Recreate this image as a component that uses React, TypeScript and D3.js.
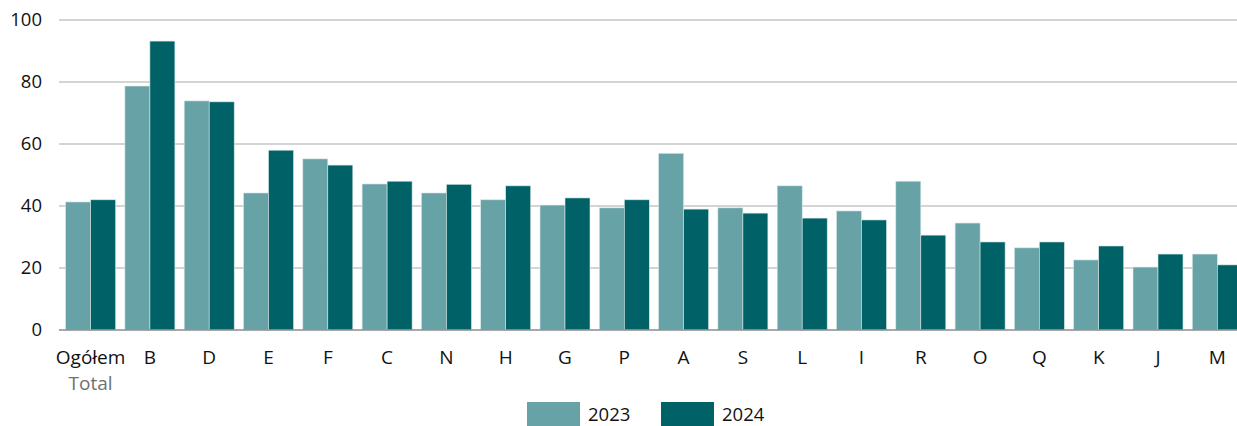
import { useEffect, useRef } from 'react';
import * as d3 from 'd3';

const categories = ['Ogółem', 'B', 'D', 'E', 'F', 'C', 'N', 'H', 'G', 'P', 'A', 'S', 'L', 'I', 'R', 'O', 'Q', 'K', 'J', 'M'];
const years = ['2023', '2024'];
const values2023 = [41.3, 78.7, 73.9, 44.2, 55.2, 47.1, 44.2, 42.0, 40.3, 39.4, 57.0, 39.4, 46.5, 38.4, 48.0, 34.5, 26.5, 22.6, 20.3, 24.5];
const values2024 = [42.0, 93.2, 73.6, 58.0, 53.2, 48.0, 47.0, 46.5, 42.6, 42.0, 39.0, 37.7, 36.1, 35.5, 30.6, 28.4, 28.4, 27.1, 24.5, 21.0];
const yTicks = [0, 20, 40, 60, 80, 100];

const colors: Record<string, string> = { '2023': '#67a2a7', '2024': '#006266' };

export default function App() {
    const svgRef = useRef<SVGSVGElement>(null);

    useEffect(() => {
        if (!svgRef.current) return;
        const svg = d3.select(svgRef.current);
        svg.selectAll('*').remove();

        const font = '"Open Sans", "Noto Sans", sans-serif';

        const x0 = d3.scaleBand<string>().domain(categories).range([61, 1247]).padding(0);
        const x1 = d3.scaleBand<string>().domain(years).range([4.6, 54.6]).padding(0);
        const y = d3.scaleLinear().domain([0, 100]).range([330, 20]);

        // gridlines
        svg.append('g')
            .selectAll('line')
            .data(yTicks.filter(t => t > 0))
            .enter()
            .append('line')
            .attr('x1', 59)
            .attr('x2', 1237)
            .attr('y1', d => y(d))
            .attr('y2', d => y(d))
            .attr('stroke', '#aaaaaa')
            .attr('stroke-width', 1.2);

        // tick labels
        svg.append('g')
            .selectAll('text')
            .data(yTicks)
            .enter()
            .append('text')
            .attr('x', 42)
            .attr('y', d => y(d))
            .attr('dy', '0.35em')
            .attr('text-anchor', 'end')
            .attr('font-family', font)
            .attr('font-size', 18.5)
            .attr('fill', '#111')
            .text(d => d);

        // bars
        const rows = categories.map((c, i) => ({ c, v: [values2023[i], values2024[i]] }));
        const groups = svg.append('g')
            .selectAll('g')
            .data(rows)
            .enter()
            .append('g')
            .attr('transform', d => `translate(${x0(d.c)},0)`);

        groups.selectAll('rect')
            .data(d => years.map((yr, j) => ({ yr, v: d.v[j] })))
            .enter()
            .append('rect')
            .attr('x', d => x1(d.yr)!)
            .attr('width', x1.bandwidth())
            .attr('y', d => y(d.v))
            .attr('height', d => y(0) - y(d.v))
            .attr('fill', d => colors[d.yr])
            .attr('stroke', '#d6e6e7')
            .attr('stroke-width', 0.6);

        // baseline
        svg.append('line')
            .attr('x1', 59)
            .attr('x2', 1237)
            .attr('y1', y(0))
            .attr('y2', y(0))
            .attr('stroke', '#8c8c8c')
            .attr('stroke-width', 1.4);

        // category labels
        svg.append('g')
            .selectAll('text')
            .data(categories)
            .enter()
            .append('text')
            .attr('x', d => x0(d)! + 29.6)
            .attr('y', 357)
            .attr('dy', '0.35em')
            .attr('text-anchor', 'middle')
            .attr('font-family', font)
            .attr('font-size', 19)
            .attr('fill', '#111')
            .text(d => d);

        svg.append('text')
            .attr('x', x0('Ogółem')! + 29.6)
            .attr('y', 383)
            .attr('dy', '0.35em')
            .attr('text-anchor', 'middle')
            .attr('font-family', font)
            .attr('font-size', 19)
            .attr('fill', '#707070')
            .text('Total');

        // legend
        const legend = svg.append('g');
        years.forEach((yr, i) => {
            const lx = 527 + i * 134;
            legend.append('rect')
                .attr('x', lx)
                .attr('y', 402)
                .attr('width', 53)
                .attr('height', 24)
                .attr('fill', colors[yr]);
            legend.append('text')
                .attr('x', lx + 61)
                .attr('y', 415)
                .attr('dy', '0.35em')
                .attr('font-family', font)
                .attr('font-size', 18.5)
                .attr('fill', '#111')
                .text(yr);
        });
    }, []);

    return (
        <div style={{ position: 'fixed', left: 0, top: 0, width: 1237, height: 426, background: '#fff' }}>
            <svg ref={svgRef} width={1237} height={426} style={{ display: 'block' }} />
        </div>
    );
}
